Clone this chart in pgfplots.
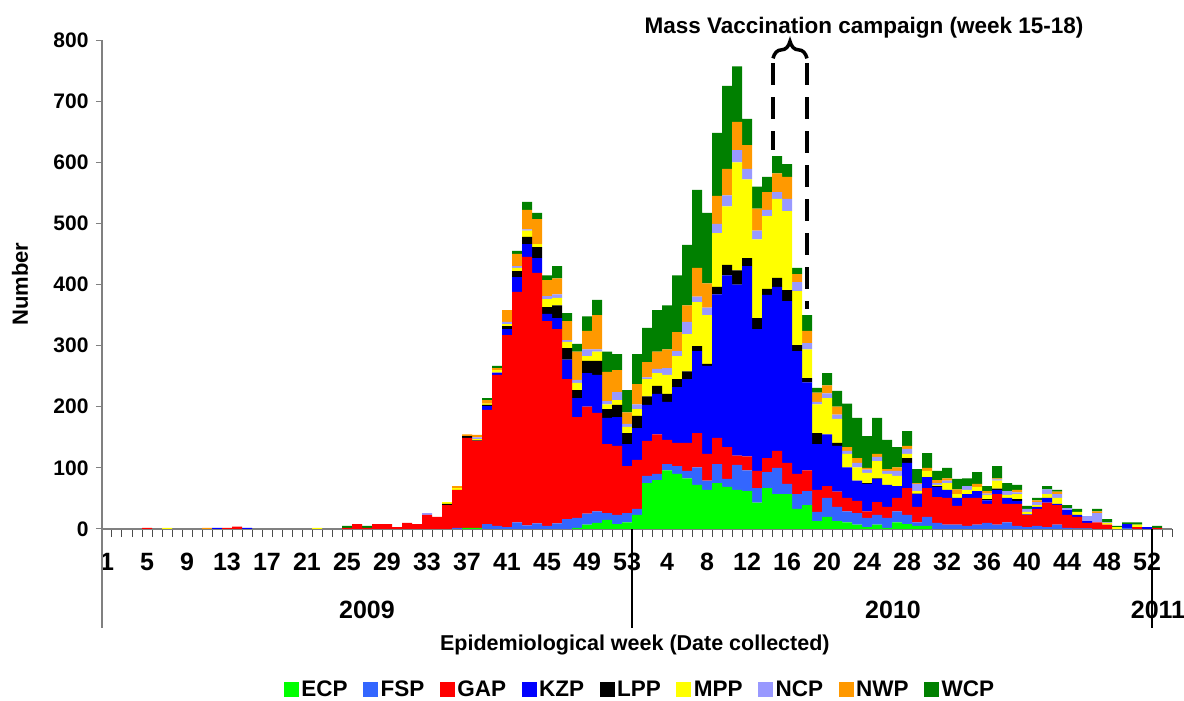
\documentclass[border=0pt]{standalone}
\usepackage{fontspec}
\setmainfont{Liberation Sans}
\usepackage{pgfplots}
\usepackage{pgfplotstable}
\pgfplotsset{compat=1.18}
\usetikzlibrary{decorations.pathreplacing}
\definecolor{cECP}{HTML}{00FF00}
\definecolor{cFSP}{HTML}{3366FF}
\definecolor{cGAP}{HTML}{FF0000}
\definecolor{cKZP}{HTML}{0000FF}
\definecolor{cLPP}{HTML}{000000}
\definecolor{cMPP}{HTML}{FFFF00}
\definecolor{cNCP}{HTML}{9999FF}
\definecolor{cNWP}{HTML}{FF9900}
\definecolor{cWCP}{HTML}{008000}
\pgfplotstableread{
w ECP FSP GAP KZP LPP MPP NCP NWP WCP
1 0 0 0 0 0 0 0 0 0
2 0 0 0 0 0 0 0 0 0
3 0 0 0 0 0 0 0 0 0
4 0 0 0 0 0 0 0 0 0
5 0 0 2 0 0 0 0 0 0
6 0 0 0 0 0 0 0 0 0
7 0 0 0 0 0 2 0 0 0
8 0 0 0 0 0 0 0 0 0
9 0 0 0 0 0 0 0 0 0
10 0 0 0 0 0 0 0 0 0
11 0 0 0 0 0 0 0 2 0
12 0 0 0 2 0 0 0 0 0
13 0 0 2 0 0 0 0 0 0
14 0 0 4 0 0 0 0 0 0
15 0 0 0 2 0 0 0 0 0
16 0 0 0 0 0 0 0 0 0
17 0 0 0 0 0 0 0 0 0
18 0 0 0 0 0 0 0 0 0
19 0 0 0 0 0 0 0 0 0
20 0 0 0 0 0 0 0 0 0
21 0 0 0 0 0 0 0 0 0
22 0 0 0 0 0 2 0 0 0
23 0 0 0 0 0 0 0 0 0
24 0 0 0 0 0 0 0 0 0
25 0 0 2 0 0 0 0 0 3
26 0 0 8 0 0 0 0 0 0
27 0 0 2 0 0 0 0 0 3
28 0 0 8 0 0 0 0 0 0
29 0 0 8 0 0 0 0 0 0
30 0 0 3 0 0 0 0 0 0
31 0 0 10 0 0 0 0 0 0
32 0 0 8 0 0 0 0 0 0
33 0 0 23 0 0 0 3 0 0
34 0 0 20 0 0 0 0 0 0
35 0 0 39 0 2 3 0 0 0
36 0 2 62 0 0 3 0 3 0
37 2 0 147 0 3 0 0 3 0
38 2 0 142 0 1 2 3 4 0
39 0 8 187 6 2 2 0 6 3
40 0 5 247 4 0 4 0 3 4
41 0 3 314 10 5 3 4 19 0
42 0 11 377 24 10 5 3 20 5
43 0 6 439 21 12 10 2 32 13
44 0 9 410 24 18 5 0 41 10
45 0 5 335 12 11 13 5 26 8
46 0 9 318 18 21 12 6 26 20
47 0 16 229 32 19 10 3 31 13
48 2 16 165 31 13 12 5 46 13
49 7 18 175 55 20 8 11 30 24
50 10 19 161 62 23 15 4 56 25
51 15 11 113 43 14 8 5 48 33
52 8 15 113 47 20 8 13 36 26
53 11 15 77 36 18 10 5 19 36
54 23 10 80 52 20 11 8 33 49
55 75 12 57 59 14 28 3 25 56
56 80 10 65 66 13 21 7 28 68
57 96 10 40 62 13 31 11 31 72
58 90 13 38 91 13 38 8 31 93
59 83 12 46 104 13 61 20 27 99
60 72 29 56 134 8 72 9 47 128
61 64 15 44 144 3 80 12 40 115
62 75 31 43 235 12 88 15 46 103
63 69 13 52 281 17 96 18 43 136
64 64 41 15 280 23 177 20 46 91
65 62 34 23 311 13 129 17 39 43
66 43 24 28 232 18 129 14 36 36
67 67 26 23 267 10 119 10 29 25
68 57 43 28 268 15 129 11 31 28
69 57 17 34 265 18 129 20 36 21
70 33 24 33 201 10 88 15 13 10
71 39 23 34 144 7 47 10 20 26
72 13 15 36 75 18 47 4 15 8
73 20 31 19 85 0 59 8 13 20
74 13 23 25 75 5 39 7 13 26
75 11 18 22 50 0 22 5 6 71
76 7 19 20 33 0 22 7 8 66
77 3 15 11 45 1 17 5 3 52
78 7 16 21 38 1 28 7 5 59
79 2 16 18 36 0 18 5 3 48
80 11 18 22 19 0 17 8 6 33
81 8 15 44 41 8 7 8 5 24
82 5 6 25 21 1 4 12 1 23
83 5 15 47 18 0 10 0 5 24
84 0 10 42 17 1 2 3 5 15
85 0 7 44 13 0 11 4 4 17
86 0 7 31 13 0 6 0 8 17
87 0 5 46 6 0 7 6 0 13
88 0 7 44 11 0 7 0 5 19
89 0 10 31 6 2 7 2 4 8
90 0 7 50 7 2 13 2 2 20
91 0 11 30 10 0 5 6 0 13
92 0 5 36 5 3 8 3 4 8
93 0 3 20 1 0 4 5 0 5
94 0 5 28 3 0 3 5 3 4
95 0 3 40 8 0 6 8 0 5
96 0 7 32 2 0 10 6 4 3
97 0 2 21 8 0 0 3 0 5
98 0 1 19 3 0 5 0 0 5
99 0 1 9 3 0 0 8 0 0
100 0 0 11 0 0 0 15 3 4
101 0 0 7 0 0 3 1 0 5
102 0 0 0 0 0 3 0 0 2
103 0 2 0 6 0 0 0 0 3
104 0 0 3 0 0 4 0 0 4
105 0 0 0 3 0 0 0 0 0
106 0 0 2 0 0 0 0 0 3
107 0 0 0 0 0 0 0 0 0
}\data
\begin{document}
\begin{tikzpicture}[x=1pt,y=1pt]
\useasboundingbox (0,0) rectangle (1184,701);
\begin{axis}[
  at={(102pt,172pt)}, anchor=south west,
  scale only axis, width=1070pt, height=489pt,
  ybar stacked, bar width=1,
  xmin=0.5, xmax=107.5, ymin=0, ymax=800,
  clip=false,
  axis x line*=bottom, axis y line*=left,
  axis line style={draw=gray, line width=2.5pt},
  ytick={0,100,...,800},
  xtick={1,5,...,105},
  xticklabels={1,5,9,13,17,21,25,29,33,37,41,45,49,53,4,8,12,16,20,24,28,32,36,40,44,48,52},
  minor xtick={0.5,1.5,...,107.5},
  tick align=outside,
  major tick length=6pt, minor tick length=8pt,
  major x tick style={draw=none},
  major y tick style={draw=gray, line width=1pt},
  minor x tick style={draw=gray!60!black, line width=1pt},
  /pgf/number format/assume math mode=true,
  yticklabel style={font=\fontsize{21}{24}\selectfont\bfseries, xshift=-4pt},
  xticklabel style={font=\fontsize{25}{27}\selectfont\bfseries, yshift=-15pt},
  ylabel={Number},
  ylabel style={font=\fontsize{22}{24}\selectfont\bfseries, at={(rel axis cs:-0.0766,0.501)}, anchor=center},
  xlabel={Epidemiological week (Date collected)},
  xlabel style={font=\fontsize{21.5}{24}\selectfont\bfseries, at={(rel axis cs:0.498,-0.237)}, anchor=center},
  legend image code/.code={\fill[#1] (0pt,-7.5pt) rectangle (15pt,7.5pt);},
  legend columns=9,
  legend style={at={(rel axis cs:0.503,-0.329)}, anchor=center, draw=none, fill=none,
    font=\fontsize{22.5}{24}\selectfont\bfseries,
    nodes={inner sep=2.5pt},
    /tikz/every even column/.append style={column sep=13pt}},
]
\addplot[fill=cECP, draw=none] table[x=w,y=ECP]{\data};
\addplot[fill=cFSP, draw=none] table[x=w,y=FSP]{\data};
\addplot[fill=cGAP, draw=none] table[x=w,y=GAP]{\data};
\addplot[fill=cKZP, draw=none] table[x=w,y=KZP]{\data};
\addplot[fill=cLPP, draw=none] table[x=w,y=LPP]{\data};
\addplot[fill=cMPP, draw=none] table[x=w,y=MPP]{\data};
\addplot[fill=cNCP, draw=none] table[x=w,y=NCP]{\data};
\addplot[fill=cNWP, draw=none] table[x=w,y=NWP]{\data};
\addplot[fill=cWCP, draw=none] table[x=w,y=WCP]{\data};
\legend{ECP,FSP,GAP,KZP,LPP,MPP,NCP,NWP,WCP}
\draw[line width=3.5pt, dash pattern=on 22pt off 12pt] (axis cs:67.6,762) -- (axis cs:67.6,620);
\draw[line width=3.5pt, dash pattern=on 22pt off 12pt] (axis cs:71.0,762) -- (axis cs:71.0,360);
\draw[line width=3.5pt, decorate, decoration={brace, amplitude=17pt}] (axis cs:67.6,770) -- (axis cs:71.0,770);
\end{axis}
\draw[gray, line width=2.5pt] (102,172) -- (102,73);
\draw[black, line width=1.2pt] (632,172) -- (632,73);
\draw[black, line width=1.2pt] (1152,172) -- (1152,73);
\node[font=\fontsize{25}{27}\selectfont\bfseries] at (367,91) {2009};
\node[font=\fontsize{25}{27}\selectfont\bfseries] at (893,91) {2010};
\node[font=\fontsize{25}{27}\selectfont\bfseries] at (1158,91) {2011};
\node[font=\fontsize{22.5}{24}\selectfont\bfseries] at (864,673) {Mass Vaccination campaign (week 15-18)};
\end{tikzpicture}
\end{document}
